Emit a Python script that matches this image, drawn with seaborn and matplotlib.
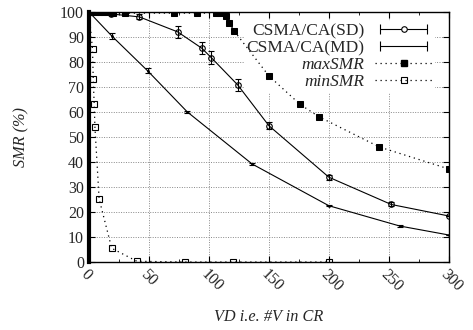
import matplotlib
matplotlib.use("Agg")
import matplotlib.pyplot as plt
import seaborn as sns
import pandas as pd
from matplotlib.ticker import MultipleLocator
from matplotlib.lines import Line2D
from matplotlib.legend_handler import HandlerLine2D, HandlerTuple

sns.set_style("ticks")
plt.rcParams['font.family'] = ['Liberation Serif', 'DejaVu Serif']

# CSMA/CA(SD)
sd_x = [0, 18, 42, 74, 94, 102, 124, 150, 200, 252, 300]
sd_y = [100, 99.2, 98, 92, 85.5, 81.7, 70.8, 54.5, 33.9, 23, 18.4]
sd_err = [0, 0.5, 1, 2.5, 2.5, 2.5, 2.5, 1.5, 1, 0.8, 0]
# CSMA/CA(MD)
md_x = [0, 19, 49, 82, 136, 200, 259, 300]
md_y = [100, 90.4, 76.4, 60, 39.2, 22.5, 14.4, 10.8]
md_err = [0, 1.2, 1, 0.5, 0.3, 0.3, 0.3, 0]
# maxSMR
max_x = [0, 3, 6, 9, 12, 15, 20, 30, 71, 90, 106, 109, 114, 117, 121, 150, 176, 192, 242, 300]
max_y = [100, 100, 100, 100, 100, 100, 99.5, 99.5, 99.5, 99.5, 99.5, 99.5, 98.4, 95.7, 92.4, 74.4, 63, 58, 46, 37.2]
# minSMR
min_x = [0, 3, 3.6, 4.4, 5, 8.5, 19, 40, 80, 120, 200]
min_y = [100, 85, 73, 63, 54, 25.2, 5.5, 0.3, 0, 0, 0]

df_max = pd.DataFrame({'x': max_x, 'y': max_y})
df_min = pd.DataFrame({'x': min_x, 'y': min_y})

fig = plt.figure(figsize=(4.73, 3.30), dpi=100)
ax = fig.add_axes([0.188, 0.206, 0.761, 0.758])

ax.errorbar(sd_x, sd_y, yerr=sd_err, color='k', lw=0.8, marker='o', ms=4,
            mfc='none', mec='k', mew=0.8, capsize=2.5, elinewidth=0.8,
            capthick=0.8, zorder=4)
ax.errorbar(md_x, md_y, yerr=md_err, color='k', lw=0.8, marker='.', ms=2,
            capsize=2.5, elinewidth=0.8, capthick=0.8, zorder=4)
sns.lineplot(data=df_max, x='x', y='y', ax=ax, color='k', lw=0.9, linestyle=(0, (1, 3)),
             marker='s', markersize=5, markerfacecolor='k', markeredgecolor='k',
             zorder=4, legend=False)
sns.lineplot(data=df_min, x='x', y='y', ax=ax, color='k', lw=0.9, linestyle=(0, (1, 3)),
             marker='s', markersize=5, markerfacecolor='none', markeredgecolor='k',
             markeredgewidth=0.8, zorder=4, legend=False)

ax.set_xlim(0, 300)
ax.set_ylim(0, 100)
ax.xaxis.set_major_locator(MultipleLocator(50))
ax.xaxis.set_minor_locator(MultipleLocator(25))
ax.yaxis.set_major_locator(MultipleLocator(10))
ax.grid(True, which='major', color='#888888', linestyle=(0, (1, 1.5)), linewidth=0.7)
ax.tick_params(which='both', direction='in', top=True, right=True, labelsize=11.5, color='k')
ax.tick_params(which='major', length=4)
ax.tick_params(which='minor', length=2)
for lab in ax.get_xticklabels():
    lab.set_rotation(-45)
    lab.set_ha('left')
    lab.set_va('top')
    lab.set_rotation_mode('anchor')
for s in ax.spines.values():
    s.set_color('k')
    s.set_linewidth(1)
ax.spines['left'].set_linewidth(3)

ax.set_xlabel('VD i.e. #V in CR', fontsize=11.7, fontstyle='italic', labelpad=10)
ax.set_ylabel('SMR (%)', fontsize=11.7, fontstyle='italic', labelpad=22)

# legend proxies (gnuplot style: horizontal bar with end caps)
bar = Line2D([], [], color='k', lw=0.8, marker='|', ms=7, mew=0.8)
circ = Line2D([], [], color='none', marker='o', ms=4, mfc='white', mec='k', mew=0.8)
bar2 = Line2D([], [], color='k', lw=0.8, marker='|', ms=7, mew=0.8)
mx = Line2D([], [], color='k', lw=0.9, linestyle=(0, (1, 3)), marker='s', ms=5, mfc='k', mec='k')
mn = Line2D([], [], color='k', lw=0.9, linestyle=(0, (1, 3)), marker='s', ms=5, mfc='none', mec='k', mew=0.8)
leg = ax.legend([(bar, circ), bar2, mx, mn],
                ['CSMA/CA(SD)', 'CSMA/CA(MD)', 'maxSMR', 'minSMR'],
                handler_map={bar: HandlerLine2D(numpoints=2), bar2: HandlerLine2D(numpoints=2),
                             tuple: HandlerTuple(ndivide=1)},
                loc='upper right', bbox_to_anchor=(0.985, 1.0),
                markerfirst=False, fontsize=12.5, frameon=True, facecolor='white',
                edgecolor='none', framealpha=1, fancybox=False, handlelength=3.3,
                labelspacing=0.05, borderpad=0.15, handletextpad=0.6)
leg.set_zorder(3)
for t in leg.get_texts():
    if t.get_text() in ('maxSMR', 'minSMR'):
        t.set_fontstyle('italic')

fig.savefig('out.png', dpi=100)
